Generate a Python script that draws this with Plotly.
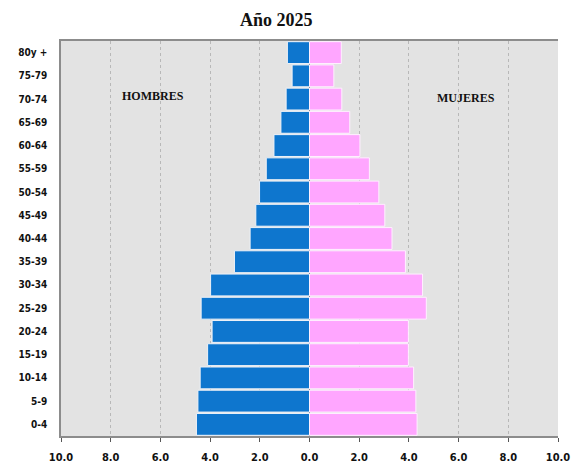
import plotly.graph_objects as go

grupos = ["0-4", "5-9", "10-14", "15-19", "20-24", "25-29", "30-34", "35-39",
          "40-44", "45-49", "50-54", "55-59", "60-64", "65-69", "70-74", "75-79", "80y +"]
hombres = [4.55, 4.49, 4.40, 4.10, 3.92, 4.36, 3.98, 3.02,
           2.39, 2.16, 2.01, 1.74, 1.43, 1.15, 0.94, 0.70, 0.89]
mujeres = [4.33, 4.28, 4.19, 3.98, 3.98, 4.70, 4.55, 3.86,
           3.32, 3.03, 2.79, 2.41, 2.03, 1.62, 1.30, 0.98, 1.28]
tick_vals = [-10, -8, -6, -4, -2, 0, 2, 4, 6, 8, 10]
tick_text = ["10.0", "8.0", "6.0", "4.0", "2.0", "0.0", "2.0", "4.0", "6.0", "8.0", "10.0"]

fig = go.Figure()
fig.add_trace(go.Bar(y=grupos, x=[-v for v in hombres], orientation="h",
                     marker=dict(color="#0E76CE", line=dict(color="#EEF2F8", width=1)),
                     name="Hombres", hoverinfo="y+text", text=hombres, textposition="none"))
fig.add_trace(go.Bar(y=grupos, x=mujeres, orientation="h",
                     marker=dict(color="#FFA6FF", line=dict(color="#FFF0FF", width=1)),
                     name="Mujeres", hoverinfo="y+x", textposition="none"))

tick_font = dict(family="Liberation Sans Narrow, DejaVu Sans Condensed, Arial Narrow, sans-serif",
                 size=11, color="#111111", weight="bold")

L, R, T, B = 61, 13, 41, 28
W, H = 571, 464

fig.update_layout(
    width=W, height=H,
    margin=dict(l=L, r=R, t=T, b=B, autoexpand=False),
    paper_bgcolor="white", plot_bgcolor="#E3E3E3",
    barmode="relative", bargap=0.06,
    showlegend=False,
    xaxis=dict(range=[-10, 10], tickvals=tick_vals, ticktext=tick_text,
               showgrid=True, gridcolor="#B8B8B8", griddash="3px,3px", gridwidth=1,
               zeroline=True, zerolinecolor="#333333", zerolinewidth=1,
               showline=True, linecolor="#8C8C8C", linewidth=1.5, mirror=True,
               ticks="outside", ticklen=4, tickcolor="#555555",
               ticklabelstandoff=6, tickfont=tick_font, fixedrange=True, automargin=False),
    yaxis=dict(categoryorder="array", categoryarray=grupos,
               showgrid=False, showline=True, linecolor="#8C8C8C", linewidth=1.5,
               ticks="", ticklabelstandoff=10, tickfont=dict(tick_font, size=10),
               fixedrange=True, automargin=False),
    annotations=[
        dict(text="Año 2025", x=(276 - L) / (W - L - R), xref="paper",
             y=1 + (T - 20) / (H - T - B), yref="paper", xanchor="center", yanchor="middle",
             showarrow=False, font=dict(family="Liberation Serif, serif", size=18,
                                        color="#111111", weight="bold")),
        dict(text="HOMBRES", x=-6.3, xref="x", y="70-74", yref="y", yshift=3,
             showarrow=False, font=dict(family="Liberation Serif, serif", size=12,
                                        color="#111111", weight="bold")),
        dict(text="MUJERES", x=6.3, xref="x", y="70-74", yref="y", yshift=1,
             showarrow=False, font=dict(family="Liberation Serif, serif", size=12,
                                        color="#111111", weight="bold")),
    ],
)

fig.write_html("out.html", config={"displayModeBar": False},
               post_script="document.body.style.margin='0px';document.body.style.overflow='hidden';")
